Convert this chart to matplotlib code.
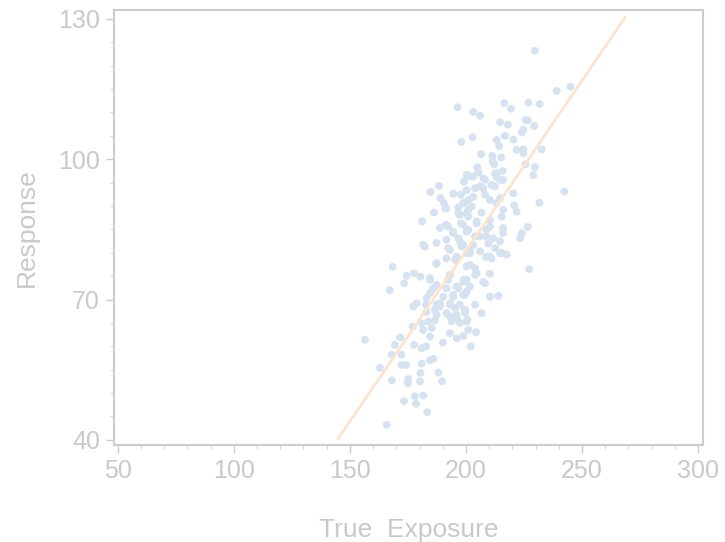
import matplotlib.pyplot as plt
from matplotlib.ticker import MultipleLocator

# values
exposure = [
    196.4, 198.0, 200.4, 229.7, 239.1, 245.0, 216.5, 219.4, 226.9, 231.7,
    203.1, 206.0, 214.7, 218.0, 225.7, 226.7, 229.4, 224.7, 224.1, 202.8,
    213.2, 216.8, 220.4, 214.3, 232.6, 206.5, 221.8, 224.7, 224.7, 211.3,
    215.1, 211.5, 212.2, 225.6, 229.7, 229.0, 204.9, 205.3, 215.8, 212.5,
    200.3, 203.1, 207.5, 213.2,
    188.4, 184.8, 189.0, 190.5, 199.1, 194.5, 197.7, 199.1, 196.7, 201.0,
    191.6, 186.2, 181.1, 197.4, 200.3, 188.8, 191.4, 194.5, 198.8, 201.0,
    191.6, 196.7, 181.6, 193.1, 198.1, 200.3, 191.6, 195.3, 187.3, 168.4,
    174.4, 177.6, 180.4, 173.4, 167.2, 184.5, 187.3, 192.3, 196.7, 199.1,
    184.5, 190.2, 194.5, 199.6, 178.7, 182.8, 187.3, 193.1, 197.4, 177.3,
    242.4, 231.6, 220.4, 220.8, 221.8, 226.6, 224.0, 223.3, 227.2, 214.7,
    216.0, 215.4, 216.0, 213.2, 212.5, 214.7, 206.0, 208.2, 203.1, 200.3,
    198.8, 201.0, 206.7, 210.3, 204.6, 200.3, 208.7, 206.0, 211.7, 209.6,
    203.1, 198.8, 212.5, 201.7, 208.7, 211.0, 215.4, 217.5, 200.3, 203.9,
    203.9, 210.3, 198.8, 201.7, 208.2, 210.3, 213.9, 198.8, 203.9,
    206.7, 199.6, 200.6, 197.4, 201.0, 204.3, 198.8, 202.0,
    156.5, 162.9, 168.0, 169.4, 171.6, 168.0, 172.2, 172.2, 174.1, 173.3,
    165.8, 175.1, 174.9, 178.0, 181.6, 178.4, 183.3, 177.6, 180.9, 182.8,
    180.9, 180.4, 180.2, 184.5, 185.9, 188.1, 189.7, 190.0, 177.0, 180.9,
    183.7, 186.6, 181.6, 185.2, 184.5, 193.1, 196.0, 193.1, 196.0, 186.6,
    188.8, 195.3, 199.6,
    191.0, 197.8, 201.7, 205.3, 208.2, 213.2, 216.0, 203.9, 207.4, 211.0,
    202.4, 210.3, 214.7, 196.7, 201.0, 204.6, 197.8, 192.3, 194.5, 200.3,
    210.3, 216.0, 208.7, 203.9, 197.4, 187.3,
    182.3, 192.3, 195.9, 187.3, 201.7, 206.0, 210.3, 214.7, 201.7, 204.6,
    200.3, 193.1, 184.5, 185.9, 191.6, 195.9, 194.5, 200.3, 207.4, 183.0,
    188.8, 193.1, 183.0, 187.3, 191.6, 195.9, 199.6, 193.8, 200.3,
]
response = [
    111.1, 103.7, 96.7, 123.2, 114.6, 115.5, 112.0, 110.8, 112.1, 111.8,
    110.1, 109.3, 107.9, 107.4, 108.4, 108.3, 107.1, 106.3, 105.7, 104.7,
    104.1, 105.0, 104.2, 102.8, 102.1, 101.1, 102.0, 102.1, 101.3, 100.7,
    100.4, 99.5, 98.9, 98.9, 98.3, 96.6, 98.3, 97.1, 97.5, 96.9,
    96.5, 96.3, 95.9, 96.2,
    94.3, 93.0, 91.7, 90.6, 95.2, 92.6, 92.4, 90.6, 89.7, 91.3,
    89.5, 88.6, 86.7, 88.1, 88.5, 85.3, 86.0, 84.5, 86.0, 84.9,
    82.8, 83.1, 81.7, 80.6, 81.3, 79.9, 78.8, 78.5, 77.6, 77.0,
    75.1, 75.6, 74.9, 73.5, 72.0, 74.2, 73.1, 74.2, 72.4, 74.2,
    71.4, 70.6, 70.6, 71.0, 69.2, 68.9, 68.9, 69.2, 68.9, 68.5,
    93.1, 90.7, 92.7, 90.1, 88.8, 85.5, 84.2, 83.1, 76.5, 82.4,
    84.2, 87.7, 89.2, 90.6, 94.2, 95.6, 94.2, 92.4, 92.0, 93.4,
    90.6, 89.2, 88.6, 87.0, 86.3, 84.9, 84.9, 83.5, 83.1, 82.0,
    81.7, 81.7, 81.0, 79.9, 79.1, 78.8, 80.0, 79.6, 77.1, 76.7,
    75.3, 75.5, 73.8, 72.8, 73.5, 70.6, 70.8, 71.0, 68.9,
    67.1, 67.2, 65.7, 65.0, 63.5, 63.0, 62.2, 60.0,
    61.4, 55.4, 52.7, 60.3, 61.9, 58.2, 58.2, 56.0, 56.0, 48.3,
    43.2, 53.0, 52.1, 49.3, 49.5, 47.7, 45.9, 60.3, 59.6, 60.0,
    56.3, 54.3, 52.5, 57.0, 57.3, 54.4, 52.5, 60.8, 64.2, 64.9,
    65.3, 65.5, 63.5, 63.9, 62.1, 66.4, 66.0, 62.8, 61.7, 67.8,
    68.5, 68.2, 67.8,
    89.5, 92.4, 96.3, 97.4, 95.6, 97.0, 95.6, 93.8, 93.8, 94.5,
    89.9, 91.3, 91.7, 88.5, 87.7, 86.7, 86.3, 85.6, 84.2, 84.5,
    85.6, 85.3, 83.5, 83.5, 82.4, 82.1,
    81.3, 81.0, 79.2, 77.8, 80.6, 80.3, 79.2, 79.9, 77.4, 75.6,
    74.2, 75.3, 74.6, 72.4, 72.4, 72.8, 71.0, 71.7, 73.8, 70.3,
    69.2, 68.9, 67.4, 66.7, 67.1, 66.7, 67.4, 65.3, 65.3,
]

# fitted line, drawn across the y range of the plot
fit_x = [145.0, 268.5]
fit_y = [40.3, 130.3]

x_ticks = [50, 100, 150, 200, 250, 300]
y_ticks = [40, 70, 100, 130]

grey = "#c9c9c9"
plt.rcParams["font.family"] = ["Liberation Sans", "DejaVu Sans"]

fig = plt.figure(figsize=(7.25, 5.42), dpi=100)
ax = fig.add_axes([0.157, 0.179, 0.813, 0.8025])

ax.scatter(exposure, response, s=32, color="#d6e2f0", edgecolors="none", zorder=2)
ax.plot(fit_x, fit_y, color="#fde3cc", linewidth=1.9, zorder=3)

ax.set_xlim(48.3, 302.2)
ax.set_ylim(38.9, 131.9)
ax.set_xticks(x_ticks)
ax.set_yticks(y_ticks)
ax.xaxis.set_minor_locator(MultipleLocator(10))
ax.yaxis.set_minor_locator(MultipleLocator(5))

for side in ax.spines.values():
    side.set_color("#cccccc")
    side.set_linewidth(1.5)

ax.tick_params(which="major", length=6, width=1, color="#cccccc",
               labelcolor=grey, labelsize=18, pad=4)
ax.tick_params(which="minor", length=3, width=0.8, color="#d6d6d6")

ax.set_xlabel("True  Exposure", color=grey, fontsize=19, labelpad=25)
ax.set_ylabel("Response", color=grey, fontsize=19, labelpad=14)

fig.savefig("out.png", dpi=100)
